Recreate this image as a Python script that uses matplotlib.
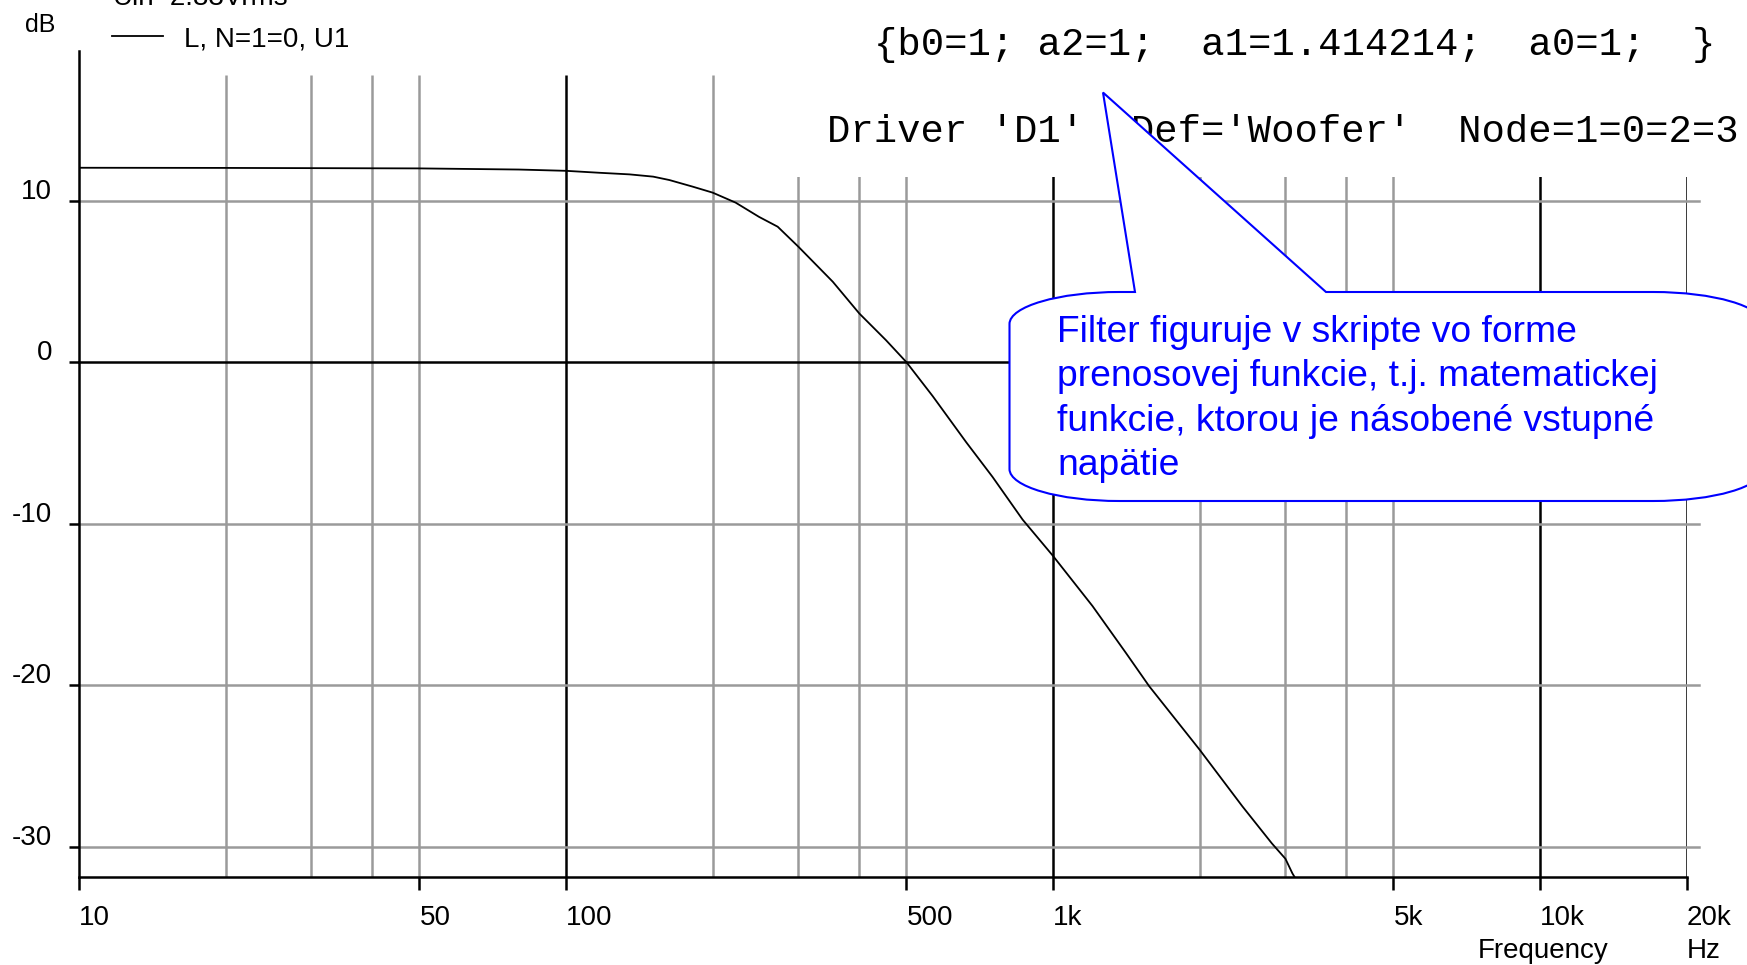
import matplotlib
matplotlib.use("Agg")
import matplotlib.pyplot as plt
import matplotlib.transforms as mtransforms
from matplotlib.path import Path
from matplotlib.patches import PathPatch, Rectangle

# frequency response (Hz, dB)
freq_hz = [10, 20, 50, 80, 100, 117, 135, 151, 163, 182, 200, 223, 249, 272,
           300, 353, 400, 454, 500, 566, 663, 751, 866, 1000, 1205, 1411,
           1575, 2000, 2447, 2814, 3000, 3100, 3130]
level_db = [12.04, 12.03, 12.0, 11.93, 11.85, 11.73, 11.63, 11.49, 11.28, 10.87,
            10.5, 9.88, 9.0, 8.39, 7.15, 4.98, 3.02, 1.36, 0.0, -2.1, -4.95,
            -7.1, -9.75, -12.0, -15.1, -18.0, -20.06, -24.0, -27.5, -29.8,
            -30.75, -31.65, -31.86]

x_ticks = [10, 50, 100, 500, 1000, 5000, 10000, 20000]
x_tick_labels = ["10", "50", "100", "500", "1k", "5k", "10k", "20k"]
y_ticks = [-30, -20, -10, 0, 10]
y_tick_labels = ["-30", "-20", "-10", "0", "10"]
grid_light = [20, 30, 40, 50, 200, 300, 400, 500, 2000, 3000, 4000, 5000]
grid_dark = [100, 1000, 10000, 20000]

W, H = 1747, 965
GRAY = "#9a9a9a"
SANS = "Liberation Sans"


def fx(x):
    return x / W


def fy(y):
    return 1 - y / H


plt.rcParams["axes.unicode_minus"] = False
fig = plt.figure(figsize=(W / 100, H / 100), dpi=100)
ax = fig.add_axes([fx(79), fy(876.7), (1686.7 - 79) / W, (876.7 - 51) / H])
ax.set_xscale("log")
ax.set_xlim(10, 20000)
ax.set_ylim(-31.86, 19.27)
ax.minorticks_off()

for s in ("top", "right"):
    ax.spines[s].set_visible(False)
for s in ("left", "bottom"):
    ax.spines[s].set_linewidth(1.8)
    ax.spines[s].set_color("black")

# grid
grid_top = 17.78
ax.vlines(grid_light, -31.86, grid_top, color=GRAY, lw=1.8, zorder=1)
ax.vlines(grid_dark, -31.86, grid_top, color="black", lw=1.8, zorder=1)
xmax_frac = (1699 - 79) / (1686.7 - 79)
for y in y_ticks:
    ax.axhline(y, xmin=0, xmax=xmax_frac, color="black" if y == 0 else GRAY,
               lw=1.8, clip_on=False, zorder=1)

ax.plot(freq_hz, level_db, color="black", lw=1.3, zorder=3,
        label="L, N=1=0, U1")

# ticks
ax.set_xticks(x_ticks)
ax.set_xticklabels(x_tick_labels, ha="left", fontsize=20, family=SANS)
ax.tick_params(axis="x", direction="out", length=9.4, width=1.8, pad=11)
for val, t in zip(x_ticks, ax.xaxis.get_major_ticks()):
    t.tick1line.set_color("black" if val in grid_dark + [10] else GRAY)

ax.set_yticks(y_ticks)
ax.set_yticklabels(y_tick_labels, fontsize=20, family=SANS)
ax.tick_params(axis="y", direction="out", length=7.2, width=1.8, pad=12)
for val, t in zip(y_ticks, ax.yaxis.get_major_ticks()):
    t.tick1line.set_color("black" if val == 0 else GRAY)
lift = mtransforms.ScaledTranslation(0, 12 / 100, fig.dpi_scale_trans)
for lab in ax.get_yticklabels():
    lab.set_transform(lab.get_transform() + lift)

ax.legend(loc="center left", bbox_to_anchor=(fx(112), fy(39)),
          bbox_transform=fig.transFigure, frameon=False,
          prop={"family": SANS, "size": 20}, handlelength=1.85,
          handletextpad=0.75, borderpad=0, borderaxespad=0)

fig.text(fx(40), fy(24.5), "dB", ha="center", va="center", fontsize=18, family=SANS)
fig.text(fx(113), fy(5), "Uin=2.83Vrms", ha="left", va="baseline", fontsize=20, family=SANS)
fig.text(fx(1608), fy(951), "Frequency", ha="right", va="center", fontsize=20, family=SANS)
fig.text(fx(1687), fy(951), "Hz", ha="left", va="center", fontsize=20, family=SANS)

# white area behind the script text
fig.patches.append(Rectangle((fx(760), fy(177)), 1 - fx(760), 177 / H,
                             transform=fig.transFigure, facecolor="white",
                             edgecolor="none", zorder=2))
fig.text(fx(874), fy(44.6), "{b0=1; a2=1;  a1=1.414214;  a0=1;  }",
         ha="left", va="center", fontsize=28, family="Liberation Mono", zorder=3)
fig.text(fx(827), fy(131.5), "Driver 'D1'  Def='Woofer'  Node=1=0=2=3",
         ha="left", va="center", fontsize=28, family="Liberation Mono", zorder=3)

# callout bubble
L, T, R, B = 1009.5, 292, 1763, 501
rx, ry = 110, 32
k = 0.5523


def corner(p0, c, p1):
    return [(p0[0] + k * (c[0] - p0[0]), p0[1] + k * (c[1] - p0[1])),
            (p1[0] + k * (c[0] - p1[0]), p1[1] + k * (c[1] - p1[1])), p1]


verts = [(1135, T), (1103, 92.5), (1326, T), (R - rx, T)]
codes = [Path.MOVETO, Path.LINETO, Path.LINETO, Path.LINETO]
verts += corner((R - rx, T), (R, T), (R, T + ry)); codes += [Path.CURVE4] * 3
verts += [(R, B - ry)]; codes += [Path.LINETO]
verts += corner((R, B - ry), (R, B), (R - rx, B)); codes += [Path.CURVE4] * 3
verts += [(L + rx, B)]; codes += [Path.LINETO]
verts += corner((L + rx, B), (L, B), (L, B - ry)); codes += [Path.CURVE4] * 3
verts += [(L, T + ry)]; codes += [Path.LINETO]
verts += corner((L, T + ry), (L, T), (L + rx, T)); codes += [Path.CURVE4] * 3
verts += [(1135, T)]; codes += [Path.CLOSEPOLY]
verts = [(fx(a), fy(b)) for a, b in verts]
fig.patches.append(PathPatch(Path(verts, codes), transform=fig.transFigure,
                             facecolor="white", edgecolor="#0000ff", lw=1.5,
                             zorder=4))
fig.text(fx(1057), fy(399),
         "Filter figuruje v skripte vo forme\n"
         "prenosovej funkcie, t.j. matematickej\n"
         "funkcie, ktorou je násobené vstupné\n"
         "napätie",
         ha="left", va="center", fontsize=26.8, family=SANS, color="#0000ff",
         linespacing=1.34, zorder=5)

fig.savefig("out.png", dpi=100)
